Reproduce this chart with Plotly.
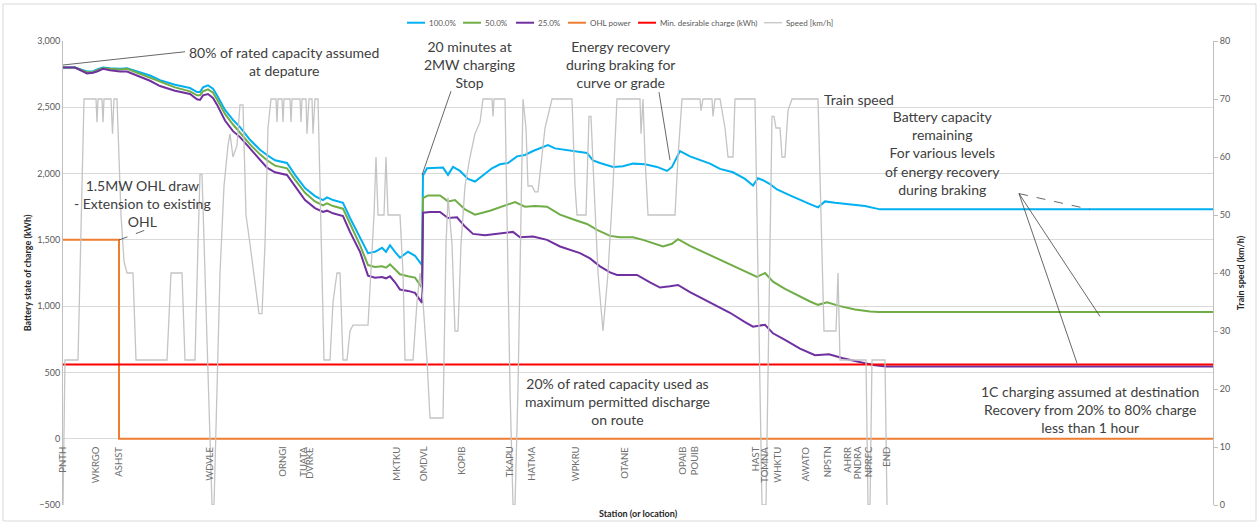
import plotly.graph_objects as go

# ---------------------------------------------------------------------------
# Route position runs from PNTH (0) along the line; the chart extends past END.
# ---------------------------------------------------------------------------
stations = ["PNTH", "WKRGO", "ASHST", "WDVLE", "ORNGI", "TUATA", "DVRKE", "MKTKU",
            "OMDVL", "KOPIB", "TKAPU", "HATMA", "WPKRU", "OTANE", "OPAIB", "POUIB",
            "HAST", "TOMNA", "WHKTU", "AWATO", "NPSTN", "AHRR", "PNDRA", "NPRFC", "END"]
station_pos = [0, 32, 56, 147, 220, 241, 247, 334, 360, 399, 446, 469, 512, 562, 620,
               631, 692, 702, 715, 742, 764, 785, 794, 805, 824]

X_END = 1150

# Battery state of charge (kWh) for 100% regenerative recovery
pos_100 = [0, 12, 24, 30, 34, 40, 47, 57, 64, 74, 87, 97, 112, 127, 134, 137, 140, 145,
           150, 154, 162, 170, 177, 187, 197, 204, 212, 224, 232, 242, 252, 260, 264, 270,
           280, 287, 297, 305, 312, 319, 323, 327, 332, 337, 345, 352, 359,
           360, 364, 372, 380, 385, 390, 397, 405, 412, 422, 429, 437, 445, 454, 462, 470,
           477, 485, 492, 500, 512, 524, 530, 537, 550, 560, 570, 582, 594, 604, 609, 617,
           627, 637, 647, 657, 670, 682, 690, 695, 700, 707, 714, 727, 737, 747, 755, 762,
           772, 787, 802, 817, 823, X_END]
soc_100 = [2800, 2800, 2770, 2770, 2785, 2800, 2795, 2790, 2795, 2770, 2740, 2705, 2670,
           2645, 2615, 2615, 2650, 2665, 2640, 2590, 2480, 2405, 2350, 2255, 2180, 2140,
           2100, 2080, 1990, 1890, 1830, 1800, 1820, 1800, 1780, 1665, 1515, 1400, 1410,
           1440, 1410, 1460, 1410, 1365, 1410, 1380, 1310,
           1985, 2040, 2045, 2045, 1990, 2050, 2020, 1960, 1940, 2000, 2040, 2070, 2080,
           2130, 2140, 2170, 2190, 2215, 2190, 2180, 2170, 2155, 2100, 2080, 2050, 2055,
           2075, 2070, 2050, 2020, 2050, 2170, 2130, 2105, 2075, 2035, 2010, 1960, 1910,
           1965, 1950, 1920, 1880, 1835, 1800, 1770, 1745, 1790, 1780, 1770, 1755, 1730,
           1730, 1730]

# Battery state of charge (kWh) for 50% regenerative recovery
pos_50 = [0, 12, 24, 30, 34, 40, 47, 57, 64, 74, 87, 97, 112, 127, 134, 137, 140, 145,
          150, 154, 162, 170, 177, 187, 197, 204, 212, 224, 232, 242, 252, 260, 264, 270,
          280, 287, 297, 305, 312, 319, 323, 327, 332, 337, 345, 352, 359,
          360, 365, 377, 385, 392, 402, 412, 427, 442, 452, 462, 472, 484, 497, 512, 524,
          534, 547, 557, 570, 580, 592, 600, 609, 615, 627, 637, 650, 662, 677, 687, 694,
          702, 710, 722, 737, 747, 755, 764, 777, 792, 807, 816, X_END]
soc_50 = [2800, 2800, 2765, 2765, 2780, 2795, 2790, 2785, 2790, 2760, 2725, 2690, 2650,
          2620, 2590, 2590, 2620, 2635, 2610, 2560, 2450, 2370, 2310, 2220, 2145, 2100,
          2060, 2040, 1955, 1855, 1790, 1760, 1775, 1755, 1735, 1620, 1460, 1310, 1295,
          1300, 1290, 1315, 1280, 1240, 1225, 1215, 1140,
          1815, 1835, 1835, 1790, 1800, 1730, 1690, 1720, 1760, 1785, 1750, 1755, 1750,
          1690, 1650, 1620, 1575, 1530, 1520, 1520, 1500, 1470, 1450, 1470, 1505, 1455,
          1420, 1370, 1330, 1280, 1240, 1220, 1250, 1185, 1130, 1070, 1035, 1010, 1030,
          1000, 975, 960, 956, 956]

# Battery state of charge (kWh) for 25% regenerative recovery
pos_25 = [0, 12, 24, 30, 34, 40, 47, 57, 64, 74, 87, 97, 112, 127, 134, 137, 140, 145,
          150, 154, 162, 170, 177, 187, 197, 204, 212, 224, 232, 242, 252, 260, 264, 270,
          280, 287, 297, 305, 312, 319, 323, 327, 332, 337, 345, 352, 359,
          360, 367, 377, 385, 394, 402, 410, 422, 437, 450, 457, 470, 484, 497, 517, 527,
          537, 547, 554, 574, 587, 597, 607, 615, 627, 637, 652, 667, 682, 690, 702, 710,
          722, 737, 752, 766, 780, 792, 802, 812, 823, X_END]
soc_25 = [2800, 2800, 2755, 2760, 2770, 2790, 2780, 2770, 2770, 2740, 2700, 2660, 2625,
          2600, 2560, 2555, 2590, 2600, 2570, 2520, 2400, 2320, 2275, 2190, 2100, 2045,
          2010, 1990, 1905, 1800, 1740, 1710, 1720, 1700, 1680, 1560, 1410, 1230, 1215,
          1220, 1210, 1225, 1180, 1125, 1115, 1100, 1025,
          1705, 1710, 1710, 1665, 1670, 1600, 1545, 1535, 1550, 1560, 1520, 1525, 1500,
          1450, 1400, 1360, 1300, 1255, 1235, 1235, 1180, 1140, 1150, 1160, 1105, 1065,
          1005, 950, 880, 845, 860, 795, 745, 680, 630, 637, 607, 585, 570, 555, 545, 545]

# Overhead line power (kW) and minimum desirable charge (kWh)
ohl_pos = [0, 56, 56, X_END]
ohl_kw = [1500, 1500, 0, 0]
min_pos = [0, X_END]
min_kwh = [560, 560]

# Train speed (km/h)
speed_pos = [0, 2, 15, 21, 33, 34, 35, 39, 40, 41, 48, 49.5, 51, 54, 58, 61, 64, 70, 73,
             104, 108, 119, 122, 132, 135, 137, 139, 142, 145, 149, 151, 154, 157, 161,
             165, 167, 170, 174, 177, 180, 183, 187, 192, 196, 199, 202, 205, 208, 213,
             214, 215, 219, 220, 221, 227, 228, 229, 237, 238, 239, 243, 244, 246, 249,
             250, 252, 255, 258, 261, 267, 270, 274, 277, 280, 284, 287, 290, 305, 309,
             311, 313, 315, 321, 323, 325, 337, 340, 342, 350, 354, 357, 360, 364, 367,
             380, 383, 385, 389, 392, 395, 398, 402, 407, 412, 417, 420, 429, 430, 431,
             442, 444, 447, 450, 452, 455, 458, 460, 463, 465, 469, 472, 475, 482, 489,
             509, 512, 514, 523, 525, 526, 528, 529, 531, 535, 540, 545, 550, 554, 577,
             578, 580, 582, 585, 612, 615, 619, 637, 638, 640, 649, 650, 652, 657, 662,
             665, 670, 672, 692, 695, 699, 703, 707, 709, 711, 713, 717, 719, 722, 725,
             729, 755, 758, 761, 773, 775, 777, 803, 805, 807, 809, 822, 824]
speed_kmh = [0, 25, 25, 70, 70, 66, 70, 70, 66, 70, 70, 64, 70, 70, 50, 42, 40, 40, 25,
             25, 40, 40, 25, 25, 45, 57, 57, 40, 20, 0, 0, 20, 40, 55,
             62, 64, 60, 62, 69, 69, 50, 45, 38, 33, 33, 45, 65, 70, 70,
             66, 70, 70, 66, 70, 70, 66, 70, 70, 66, 70, 70, 64, 70, 70,
             64, 70, 70, 50, 25, 25, 35, 40, 40, 25, 25, 30, 31, 31, 45,
             50, 60, 50, 50, 60, 50, 50, 40, 25, 25, 35, 40, 35, 25, 15,
             15, 45, 53, 45, 30, 30, 45, 55, 60, 64, 66, 70, 70, 67, 70,
             70, 50, 20, 0, 0, 20, 55, 70, 65, 55, 55, 54, 54, 65, 70,
             70, 55, 50, 50, 60, 67, 67, 62, 55, 40, 30, 40, 55, 70, 70,
             64, 70, 60, 50, 50, 60, 70, 70, 68, 70, 70, 67, 70, 70, 65,
             60, 60, 70, 70, 40, 0, 0, 45, 67, 67, 65, 65, 60, 60, 68,
             70, 70, 50, 30, 30, 40, 25, 25, 0, 0, 25, 25, 0]

FONT = "Lato"
TICK_GREY = "#595959"
GRID = "#d9d9d9"

series = [
    ("100.0%", pos_100, soc_100, "#00b0f0", 2, "y"),
    ("50.0%", pos_50, soc_50, "#70ad47", 2, "y"),
    ("25.0%", pos_25, soc_25, "#7030a0", 2, "y"),
    ("OHL power", ohl_pos, ohl_kw, "#ed7d31", 2, "y"),
    ("Min. desirable charge (kWh)", min_pos, min_kwh, "#ff0000", 2, "y"),
    ("Speed [km/h]", speed_pos, speed_kmh, "#c4c4c4", 1.3, "y2"),
]

fig = go.Figure()
for name, xs, ys, colour, w, axis in series:
    fig.add_trace(go.Scatter(x=xs, y=ys, name=name, mode="lines", yaxis=axis,
                             showlegend=False, line=dict(color=colour, width=w)))

annotations = []
shapes = []

# compact legend row above the plot (Excel-style short keys)
PLOT_L, PLOT_W = 63, 1150
legend_key_px = [407, 463, 516, 568, 638, 764]
legend_y = 1.0394
for (name, _, _, colour, w, _), kx in zip(series, legend_key_px):
    x0 = (kx - PLOT_L) / PLOT_W
    x1 = (kx + 18 - PLOT_L) / PLOT_W
    shapes.append(dict(type="line", xref="paper", yref="paper", x0=x0, x1=x1,
                       y0=legend_y, y1=legend_y, line=dict(color=colour, width=w)))
    annotations.append(dict(x=x1, y=legend_y, xref="paper", yref="paper", xshift=2,
                            text=name, showarrow=False, xanchor="left", yanchor="middle",
                            font=dict(family=FONT, size=8, color=TICK_GREY)))

# station names, rotated and hanging below the zero line
for name, p in zip(stations, station_pos):
    annotations.append(dict(x=p, y=-45, xref="x", yref="y", text=name, textangle=-90,
                            showarrow=False, xanchor="center", yanchor="top",
                            font=dict(family=FONT, size=9.5, color="#6f6f6f")))

note_font = dict(family=FONT, size=14, color="#404040")
notes = [
    (220.5, 2849, "80% of rated capacity assumed<br>at depature", "center"),
    (79, 1778, "1.5MW OHL draw<br>- Extension to existing<br>OHL", "center"),
    (406, 2826, "20 minutes at<br>2MW charging<br>Stop", "center"),
    (557, 2826, "Energy recovery<br>during braking for<br>curve or grade", "center"),
    (759, 2562, "Train speed", "left"),
    (879, 2155, "Battery capacity<br>remaining<br>For various levels<br>of energy recovery<br>during braking", "center"),
    (554, 284, "20% of rated capacity used as<br>maximum permitted discharge<br>on route", "center"),
    (1027, 224, "1C charging assumed at destination<br>Recovery from 20% to 80% charge<br>less than 1 hour", "center"),
]
for x, y, t, anchor in notes:
    annotations.append(dict(x=x, y=y, xref="x", yref="y", text=t, showarrow=False,
                            xanchor=anchor, yanchor="middle", align="center",
                            font=note_font))

annotations.append(dict(x=0.5, y=-0.0, xref="paper", yref="paper", yshift=-8,
                        text="<b>Station (or location)</b>", showarrow=False,
                        xanchor="center", yanchor="middle",
                        font=dict(family=FONT, size=9, color="#262626")))

for (x0, y0, x1, y1, dash) in [
    (0, 2819, 122, 2919, "solid"),
    (56, 1499, 85, 1582, "dash"),
    (359, 1989, 388, 2622, "solid"),
    (596, 2614, 607, 2101, "solid"),
    (956, 1849, 1027, 1730, "dash"),
    (956, 1849, 1037, 922, "solid"),
    (956, 1849, 1014, 570, "solid"),
]:
    shapes.append(dict(type="line", xref="x", yref="y", x0=x0, y0=y0, x1=x1, y1=y1,
                       line=dict(color="#404040", width=0.8, dash=dash)))

# outer chart frame
shapes.append(dict(type="rect", xref="paper", yref="paper", x0=-0.0522, x1=1.0374,
                   y0=-0.0345, y1=1.0797, line=dict(color=GRID, width=1),
                   fillcolor="rgba(0,0,0,0)", layer="below"))

fig.update_layout(
    width=1260, height=526,
    margin=dict(l=63, r=47, t=41, b=21),
    paper_bgcolor="white", plot_bgcolor="white",
    font=dict(family=FONT, color=TICK_GREY),
    showlegend=False,
    xaxis=dict(range=[0, X_END], showgrid=False, zeroline=False, showticklabels=False,
               showline=False, ticks=""),
    yaxis=dict(range=[-500, 3000], dtick=500, tickformat=",", showgrid=True,
               gridcolor=GRID, gridwidth=1, zeroline=False, showline=True,
               linecolor="#bfbfbf", ticks="", tickfont=dict(size=9, color=TICK_GREY),
               title=dict(text="<b>Battery state of charge (kWh)</b>", standoff=4,
                          font=dict(size=9, color="#262626"))),
    yaxis2=dict(range=[0, 80], dtick=10, overlaying="y", side="right", showgrid=False,
                zeroline=False, showline=True, linecolor="#bfbfbf", ticks="outside",
                ticklen=4, tickcolor="#bfbfbf", tickfont=dict(size=9, color=TICK_GREY),
                title=dict(text="<b>Train speed (km/h)</b>", standoff=8,
                           font=dict(size=9, color="#262626"))),
    annotations=annotations,
    shapes=shapes,
)

fig.write_html("out.html")
